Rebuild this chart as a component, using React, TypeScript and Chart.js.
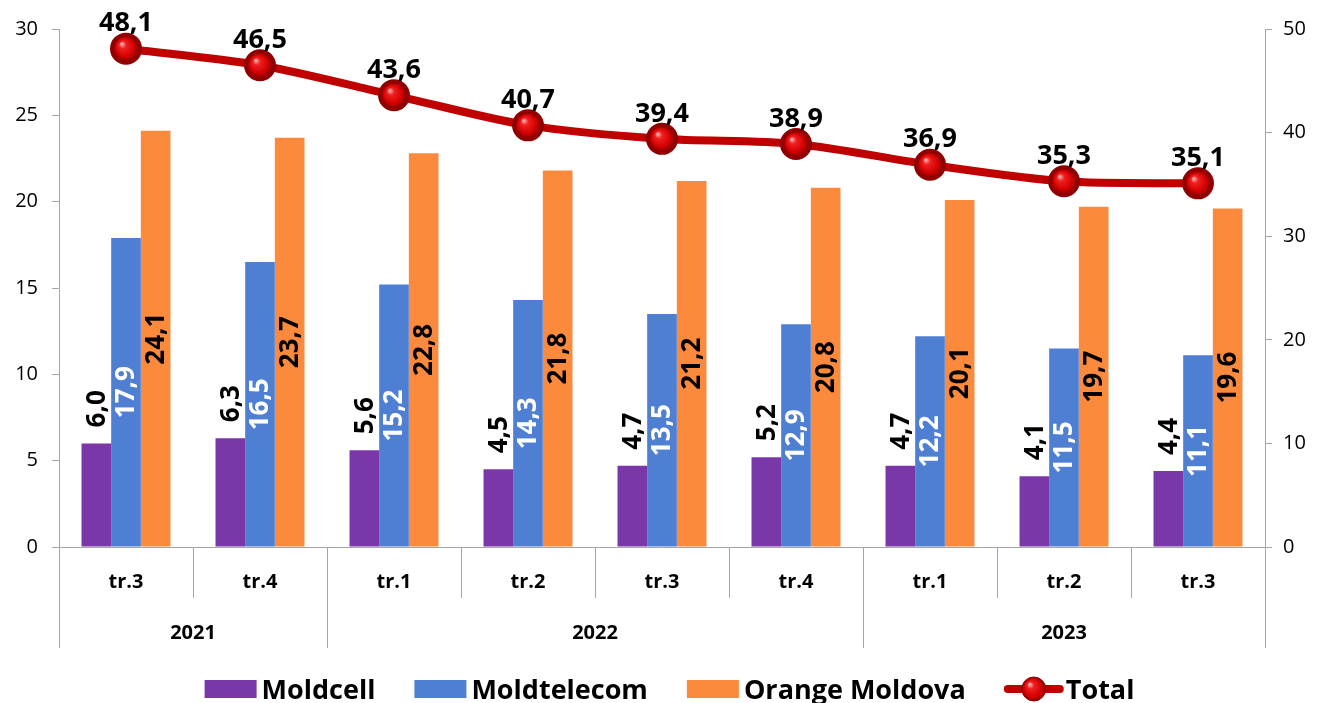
import React, { useEffect, useRef } from "react";
import { Chart, registerables } from "chart.js";

Chart.register(...registerables);

const quarters = ["tr.3", "tr.4", "tr.1", "tr.2", "tr.3", "tr.4", "tr.1", "tr.2", "tr.3"];
const yearLabels = ["2021", "2022", "2023"];
const yearSpans = [2, 4, 3];
const moldcell = [6.0, 6.3, 5.6, 4.5, 4.7, 5.2, 4.7, 4.1, 4.4];
const moldtelecom = [17.9, 16.5, 15.2, 14.3, 13.5, 12.9, 12.2, 11.5, 11.1];
const orangeMd = [24.1, 23.7, 22.8, 21.8, 21.2, 20.8, 20.1, 19.7, 19.6];
const total = [48.1, 46.5, 43.6, 40.7, 39.4, 38.9, 36.9, 35.3, 35.1];
const seriesNames = ["Moldcell", "Moldtelecom", "Orange Moldova", "Total"];

const FONT = "'Open Sans', 'DejaVu Sans', sans-serif";
const C_PURPLE = "#7a37a8";
const C_BLUE = "#4f7fd3";
const C_ORANGE = "#fb8a3c";
const C_RED = "#c00000";
const AXIS = "#a6a6a6";

const fmt = (v: number) => v.toFixed(1).replace(".", ",");

function drawBall(ctx: CanvasRenderingContext2D, x: number, y: number, r: number) {
  const g = ctx.createRadialGradient(x - r * 0.35, y - r * 0.4, r * 0.05, x, y, r);
  g.addColorStop(0, "#ffb0b0");
  g.addColorStop(0.25, "#f02020");
  g.addColorStop(0.75, "#d00000");
  g.addColorStop(1, "#8a0000");
  ctx.beginPath();
  ctx.arc(x, y, r, 0, Math.PI * 2);
  ctx.fillStyle = g;
  ctx.fill();
  ctx.lineWidth = 1;
  ctx.strokeStyle = "#900000";
  ctx.stroke();
}

const customPlugin = {
  id: "customDraw",
  afterDatasetsDraw(chart: any) {
    const ctx: CanvasRenderingContext2D = chart.ctx;
    [0, 1, 2].forEach((di) => {
      const meta = chart.getDatasetMeta(di);
      meta.data.forEach((el: any, i: number) => {
        const v = chart.data.datasets[di].data[i] as number;
        const { x, y, base } = el.getProps(["x", "y", "base"], true);
        ctx.save();
        ctx.translate(x, di === 0 ? y - 16 : (y + base) / 2);
        ctx.rotate(-Math.PI / 2);
        ctx.font = `bold 26px ${FONT}`;
        ctx.fillStyle = di === 1 ? "#ffffff" : "#000000";
        ctx.textAlign = di === 0 ? "left" : "center";
        ctx.textBaseline = "middle";
        ctx.fillText(fmt(v), 0, 1);
        ctx.restore();
      });
    });
    const lm = chart.getDatasetMeta(3);
    lm.data.forEach((el: any, i: number) => {
      const { x, y } = el.getProps(["x", "y"], true);
      drawBall(ctx, x, y, 12.5);
      ctx.save();
      ctx.font = `bold 27px ${FONT}`;
      ctx.fillStyle = "#000";
      ctx.textAlign = "center";
      ctx.textBaseline = "middle";
      ctx.fillText(fmt(total[i]), x, y - 25);
      ctx.restore();
    });
  },
  afterDraw(chart: any) {
    const ctx: CanvasRenderingContext2D = chart.ctx;
    const xs = chart.scales.x;
    const n = quarters.length;
    const cw = (xs.right - xs.left) / n;
    const top = xs.top;
    const yearBounds = new Set<number>([0]);
    let acc = 0;
    yearSpans.forEach((s) => {
      acc += s;
      yearBounds.add(acc);
    });
    ctx.save();
    ctx.strokeStyle = AXIS;
    ctx.lineWidth = 1;
    for (let i = 0; i <= n; i++) {
      const px = Math.round(xs.left + i * cw) + 0.5;
      ctx.beginPath();
      ctx.moveTo(px, top);
      ctx.lineTo(px, top + (yearBounds.has(i) ? 101 : 51));
      ctx.stroke();
    }
    ctx.fillStyle = "#000";
    ctx.textAlign = "center";
    ctx.textBaseline = "middle";
    ctx.font = `bold 20px ${FONT}`;
    quarters.forEach((q, i) => {
      ctx.fillText(q, xs.left + (i + 0.5) * cw, top + 35);
    });
    let start = 0;
    yearLabels.forEach((yl, k) => {
      const end = start + yearSpans[k];
      ctx.fillText(yl, xs.left + ((start + end) / 2) * cw, top + 86);
      start = end;
    });

    // legend
    ctx.font = `bold 27px ${FONT}`;
    const boxW = 52;
    const gapIn = 5;
    const gapOut = 39;
    const widths = seriesNames.map((s) => boxW + gapIn + ctx.measureText(s).width);
    const totalW = widths.reduce((a, b) => a + b, 0) + gapOut * (seriesNames.length - 1);
    let lx = (chart.width - totalW) / 2;
    const ly = 689;
    const colors = [C_PURPLE, C_BLUE, C_ORANGE];
    seriesNames.forEach((s, k) => {
      if (k < 3) {
        ctx.fillStyle = colors[k];
        ctx.fillRect(lx, ly - 9, boxW, 18);
      } else {
        ctx.strokeStyle = C_RED;
        ctx.lineWidth = 8;
        ctx.lineCap = "round";
        ctx.beginPath();
        ctx.moveTo(lx + 3, ly);
        ctx.lineTo(lx + boxW + 3, ly);
        ctx.stroke();
        drawBall(ctx, lx + boxW / 2 + 3, ly, 12);
      }
      ctx.fillStyle = "#000";
      ctx.textAlign = "left";
      ctx.textBaseline = "middle";
      ctx.fillText(s, lx + boxW + gapIn + (k === 3 ? 4 : 0), ly + 2);
      lx += widths[k] + gapOut;
    });
    ctx.restore();
  },
};

export default function App() {
  const ref = useRef<HTMLCanvasElement | null>(null);
  useEffect(() => {
    if (!ref.current) return;
    const chart = new Chart(ref.current, {
      type: "bar",
      data: {
        labels: quarters,
        datasets: [
          { type: "bar", label: seriesNames[0], data: moldcell, backgroundColor: C_PURPLE, yAxisID: "y", order: 2, categoryPercentage: 0.664, barPercentage: 1 },
          { type: "bar", label: seriesNames[1], data: moldtelecom, backgroundColor: C_BLUE, yAxisID: "y", order: 2, categoryPercentage: 0.664, barPercentage: 1 },
          { type: "bar", label: seriesNames[2], data: orangeMd, backgroundColor: C_ORANGE, yAxisID: "y", order: 2, categoryPercentage: 0.664, barPercentage: 1 },
          {
            type: "line",
            label: seriesNames[3],
            data: total,
            borderColor: C_RED,
            borderWidth: 8,
            tension: 0.3,
            pointRadius: 12,
            pointBackgroundColor: "#d00000",
            pointBorderColor: "#900000",
            yAxisID: "y2",
            order: 1,
          } as any,
        ],
      },
      options: {
        responsive: false,
        animation: false,
        devicePixelRatio: 1,
        layout: { padding: { top: 29, left: 0, right: 0, bottom: 0 } },
        plugins: { legend: { display: false }, tooltip: { enabled: false } },
        scales: {
          x: {
            type: "category",
            ticks: { display: false },
            grid: { display: false },
            border: { display: true, color: AXIS },
            afterFit: (s: any) => {
              s.height = 156;
            },
          },
          y: {
            position: "left",
            min: 0,
            max: 30,
            ticks: { stepSize: 5, color: "#000", font: { family: FONT, size: 20 }, padding: 14 },
            grid: { drawOnChartArea: false, drawTicks: true, tickLength: 7, color: AXIS },
            border: { display: true, color: AXIS },
            afterFit: (s: any) => {
              s.width = 59;
            },
          },
          y2: {
            position: "right",
            min: 0,
            max: 50,
            ticks: { stepSize: 10, color: "#000", font: { family: FONT, size: 20 }, padding: 11 },
            grid: { drawOnChartArea: false, drawTicks: true, tickLength: 7, color: AXIS },
            border: { display: true, color: AXIS },
            afterFit: (s: any) => {
              s.width = 70;
            },
          },
        },
      } as any,
      plugins: [customPlugin],
    });
    return () => chart.destroy();
  }, []);
  return (
    <div style={{ position: "absolute", left: 0, top: 0, width: 1335, height: 703, background: "#fff" }}>
      <canvas ref={ref} width={1335} height={703} style={{ width: 1335, height: 703 }} />
    </div>
  );
}
